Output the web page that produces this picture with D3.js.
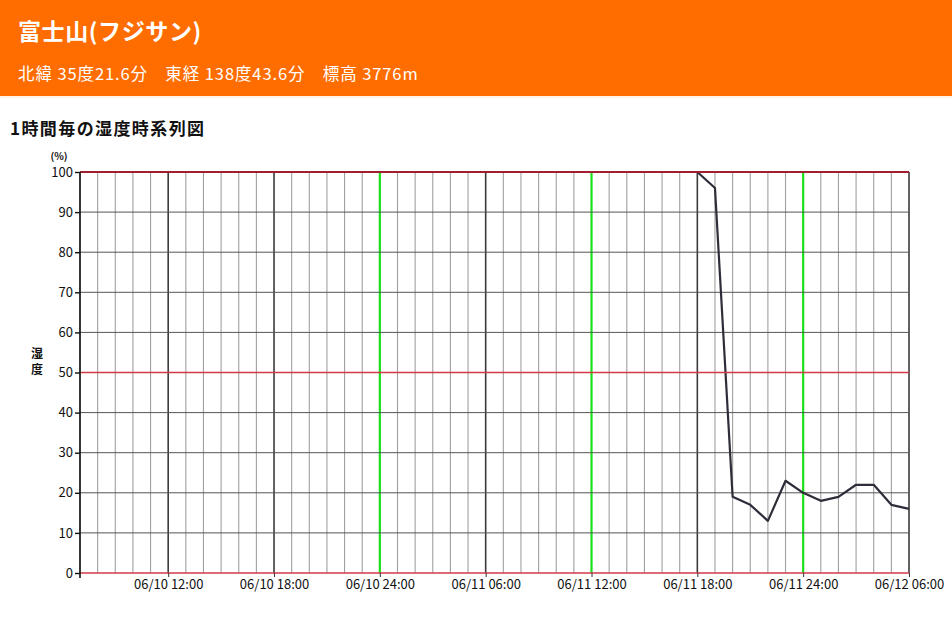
<!DOCTYPE html>
<html><head><meta charset="utf-8">
<script src="https://cdn.jsdelivr.net/npm/d3@7"></script>
<style>
body{margin:0;background:#fff;font-family:"Noto Sans CJK JP","Noto Sans",sans-serif;}
svg{display:block}
</style></head>
<body><svg id="c" width="952" height="623"></svg>
<script>
const stationName = "富士山(フジサン)";
const stationInfo = "北緯 35度21.6分　東経 138度43.6分　標高 3776m";
const chartTitle = "1時間毎の湿度時系列図";
const yUnit = "(%)";
const yLabel = ["湿","度"];
const startTime = "2024-06-10T07:00";
const endTime = "2024-06-12T06:00";
const humidity = [
 100,100,100,100,100,100,100,100,100,100,100,100,100,100,100,100,100,
 100,100,100,100,100,100,100,100,100,100,100,100,100,100,100,100,100,100,
 100,96,19,17,13,23,20,18,19,22,22,17,16
];
const yTicks = [0,10,20,30,40,50,60,70,80,90,100];
const redLines = [0,50,100];
const xLabelTimes = ["2024-06-10T12:00","2024-06-10T18:00","2024-06-11T00:00","2024-06-11T06:00","2024-06-11T12:00","2024-06-11T18:00","2024-06-12T00:00","2024-06-12T06:00"];
const xLabels = ["06/10 12:00","06/10 18:00","06/10 24:00","06/11 06:00","06/11 12:00","06/11 18:00","06/11 24:00","06/12 06:00"];
const greenTimes = ["2024-06-11T00:00","2024-06-11T12:00","2024-06-12T00:00"];

const svg = d3.select("#c");
const parse = d3.timeParse("%Y-%m-%dT%H:%M");
const t0 = parse(startTime), t1 = parse(endTime);
const hours = d3.timeHour.range(t0, d3.timeHour.offset(t1,1));
const data = hours.map((t,i)=>({t, v: humidity[i]}));

// header
svg.append("rect").attr("x",0).attr("y",0).attr("width",952).attr("height",96).attr("fill","#ff6d00");
svg.append("rect").attr("x",0).attr("y",96).attr("width",952).attr("height",2).attr("fill","#fff3e6");
svg.append("text").attr("x",18).attr("y",40).attr("fill","#fff").attr("font-size",23).attr("font-weight","bold").attr("letter-spacing",0.6).text(stationName);
svg.append("text").attr("x",18).attr("y",80).attr("fill","#fff").attr("font-size",16.5).attr("letter-spacing",0.9).text(stationInfo);
svg.append("text").attr("x",10).attr("y",135).attr("fill","#111").attr("font-size",17).attr("font-weight","bold").attr("letter-spacing",1.4).text(chartTitle);

const m = {l:80, r:909, t:172, b:573};
const x = d3.scaleTime().domain([t0,t1]).range([m.l,m.r]);
const y = d3.scaleLinear().domain([0,100]).range([m.b,m.t]);
const g = svg.append("g");

const greenSet = new Set(greenTimes.map(s=>+parse(s)));
// vertical grid
g.selectAll("line.vg").data(hours).join("line")
 .attr("x1",d=>x(d)).attr("x2",d=>x(d)).attr("y1",m.t).attr("y2",m.b)
 .attr("stroke",d=>greenSet.has(+d)?"#19e019":(d.getHours()%6===0?"#3a3a3a":"#a0a0a0"))
 .attr("stroke-width",d=>greenSet.has(+d)?2.2:(d.getHours()%6===0?1.6:1.1));
// horizontal grid
g.selectAll("line.hg").data(yTicks.filter(v=>!redLines.includes(v))).join("line")
 .attr("x1",m.l).attr("x2",m.r).attr("y1",d=>y(d)).attr("y2",d=>y(d))
 .attr("stroke","#555").attr("stroke-width",1);

// data line
const line = d3.line().x(d=>x(d.t)).y(d=>y(d.v));
g.append("path").datum(data).attr("d",line).attr("fill","none").attr("stroke","#2e2e3a").attr("stroke-width",2.2).attr("stroke-linejoin","round");

// red lines
g.selectAll("line.rl").data(redLines).join("line")
 .attr("x1",m.l).attr("x2",m.r).attr("y1",d=>y(d)).attr("y2",d=>y(d))
 .attr("stroke",d=>d===100?"#a01e30":"#d23a48").attr("stroke-width",d=>d===100?2.2:1.6);

// axes
const ya = svg.append("g").attr("transform",`translate(${m.l},0)`)
 .call(d3.axisLeft(y).tickValues(yTicks).tickSize(5).tickPadding(2));
ya.select(".domain").attr("stroke","#111").attr("stroke-width",1.6).attr("d",`M0,${m.t}V${m.b+5}`);
ya.selectAll("text").attr("font-size",13).attr("fill","#111").attr("font-family","'Noto Sans CJK JP',sans-serif");
ya.selectAll(".tick line").attr("stroke","#111").attr("stroke-width",1.4);

const xa = svg.append("g").attr("transform",`translate(0,${m.b})`)
 .call(d3.axisBottom(x).tickValues(xLabelTimes.map(parse)).tickSize(4).tickPadding(3)
   .tickFormat((d,i)=>xLabels[i]));
xa.select(".domain").remove();
xa.selectAll("text").attr("font-size",13).attr("fill","#111").attr("font-family","'Noto Sans CJK JP',sans-serif");
xa.selectAll(".tick line").attr("stroke","#333");

svg.append("text").attr("x",59).attr("y",160).attr("text-anchor","middle").attr("font-size",10).attr("font-weight","bold").attr("fill","#111").text(yUnit);
svg.selectAll("text.ylab").data(yLabel).join("text").attr("class","ylab")
 .attr("x",37).attr("y",(d,i)=>358+i*16).attr("text-anchor","middle").attr("font-size",12).attr("font-weight","bold").attr("fill","#111").text(d=>d);
</script></body></html>
